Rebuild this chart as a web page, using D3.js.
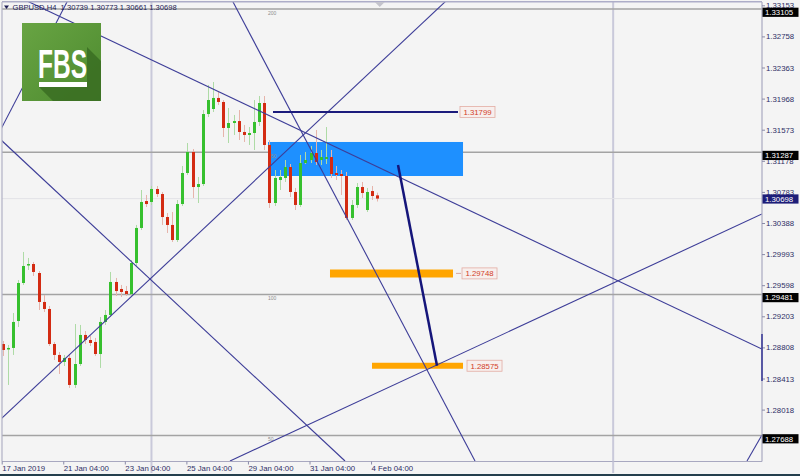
<!DOCTYPE html>
<html><head><meta charset="utf-8">
<script src="https://cdn.jsdelivr.net/npm/d3@7/dist/d3.min.js"></script>
<style>body{margin:0;background:#f4f4f4}svg{display:block}</style>
</head><body><svg id="c" width="800" height="476"></svg>
<script>
// ---------- data ----------
const symbolTitle = "GBPUSD,H4";
const opens  = [1.28851,1.28788,1.28801,1.29143,1.29626,1.29855,1.29867,1.29753,1.29385,1.29296,1.28851,1.28712,1.28623,1.28674,1.28331,1.28597,1.28966,1.28902,1.28877,1.28724,1.29131,1.29220,1.29639,1.29550,1.29524,1.29486,1.29880,1.30325,1.30667,1.30655,1.30820,1.30756,1.30464,1.30363,1.30172,1.30629,1.31023,1.31290,1.30845,1.30883,1.31772,1.31836,1.31976,1.31925,1.31595,1.31658,1.31683,1.31544,1.31506,1.31531,1.31671,1.31912,1.31379,1.30642,1.30934,1.30960,1.31099,1.30782,1.30617,1.31150,1.31188,1.31277,1.31188,1.31201,1.31226,1.31023,1.31010,1.30985,1.30452,1.30617,1.30845,1.30553,1.30794,1.30739];
const highs  = [1.28889,1.28839,1.29245,1.29664,1.30020,1.29944,1.29893,1.29778,1.29474,1.29334,1.28877,1.28750,1.28712,1.28724,1.29105,1.29093,1.29016,1.28953,1.28928,1.29194,1.29283,1.29766,1.29690,1.29601,1.29588,1.29918,1.30363,1.30807,1.30744,1.30858,1.30858,1.30782,1.30515,1.30528,1.30680,1.31112,1.31404,1.31328,1.30972,1.31823,1.32141,1.32179,1.32052,1.31950,1.31849,1.31760,1.31823,1.31633,1.31607,1.31950,1.32001,1.32001,1.31442,1.31061,1.31061,1.31188,1.31137,1.30833,1.31252,1.31290,1.31366,1.31569,1.31315,1.31607,1.31315,1.31112,1.31061,1.31036,1.30680,1.30896,1.30909,1.30833,1.30858,1.30773];
const lows   = [1.28699,1.28331,1.28712,1.29067,1.29601,1.29791,1.29715,1.29283,1.29258,1.28826,1.28648,1.28470,1.28572,1.28293,1.28293,1.28572,1.28851,1.28826,1.28699,1.28547,1.29093,1.29194,1.29461,1.29448,1.29461,1.29461,1.29842,1.30299,1.30591,1.30617,1.30718,1.30363,1.30261,1.30147,1.30147,1.30604,1.30998,1.30706,1.30642,1.30858,1.31734,1.31798,1.31887,1.31480,1.31404,1.31506,1.31442,1.31417,1.31379,1.31315,1.31620,1.31315,1.30579,1.30604,1.30807,1.30909,1.30718,1.30553,1.30591,1.31137,1.31150,1.31125,1.31125,1.31137,1.30960,1.30934,1.30744,1.30426,1.30426,1.30579,1.30706,1.30528,1.30680,1.30661];
const closes = [1.28775,1.28801,1.29131,1.29626,1.29842,1.29867,1.29766,1.29385,1.29296,1.28851,1.28712,1.28623,1.28674,1.28331,1.28597,1.28966,1.28902,1.28864,1.28724,1.29131,1.29220,1.29639,1.29524,1.29512,1.29486,1.29880,1.30325,1.30655,1.30629,1.30820,1.30756,1.30464,1.30363,1.30172,1.30629,1.31023,1.31290,1.30845,1.30883,1.31772,1.31950,1.31976,1.31925,1.31595,1.31658,1.31683,1.31544,1.31506,1.31531,1.31671,1.31912,1.31379,1.30642,1.30960,1.30972,1.31099,1.30782,1.30617,1.31150,1.31188,1.31277,1.31163,1.31226,1.31226,1.31010,1.30998,1.30985,1.30452,1.30617,1.30845,1.30769,1.30782,1.30731,1.30698];

const timeTickIdx = [0,12,24,36,48,60,72];
const timeTickLabels = ["17 Jan 2019","21 Jan 04:00","23 Jan 04:00","25 Jan 04:00","29 Jan 04:00","31 Jan 04:00","4 Feb 04:00"];
const priceTicks = [1.33153,1.32758,1.32363,1.31968,1.31573,1.31178,1.30783,1.30388,1.29993,1.29598,1.29203,1.28808,1.28413,1.28018];
const levelPrices = [1.33105,1.31287,1.29481,1.27688];
const levelLabels = ["200","150","100","50"];
const bidPrice = 1.30698;
const gridIdx = [29,119];
// trend lines: [barIndex, price] pairs
const trendStart = [[-0.53,1.31556],[4.35,1.33220],[-0.53,1.31455],[-0.53,1.27886],[44.70,1.33220],[44.31,1.27365],[145.09,1.27365]];
const trendEnd   = [[12.73,1.33220],[148.0,1.28788],[66.73,1.27365],[86.61,1.33220],[92.07,1.27365],[148.0,1.30502],[148.0,1.27696]];
const zoneIdx = [51.72,89.73];
const zonePrices = [1.31417,1.30985];
const resistIdx = [52.69,88.75];
const resistPrice = 1.31799;
const targetPrices = [1.29748,1.28575];
const targetIdx = [[63.8,87.78],[71.99,89.73]];
const arrowPts = [[77.06,1.31125],[84.66,1.28575]];
const axisMarkPrices = [1.28978,1.28381];

// ---------- scales ----------
const svg = d3.select("#c");
const W = 800, H = 476;
const pL = 2, pT = 2, pR = 762, pB = 461.5;
const x = d3.scaleLinear().domain([0,148]).range([2.7,761.94]);
const y = d3.scaleLinear().domain([1.28018,1.32758]).range([409.6,36.4]);
const fnt = "Liberation Sans, Arial, sans-serif";
const f5 = d3.format(".5f");

svg.append("rect").attr("width",W).attr("height",H).attr("fill","#f4f4f4");
const defs = svg.append("defs");
defs.append("clipPath").attr("id","plot").append("rect")
  .attr("x",pL).attr("y",pT).attr("width",pR-pL).attr("height",pB-pT);
const lg = defs.append("linearGradient").attr("id","lg").attr("x1",0).attr("y1",0).attr("x2",1).attr("y2",1);
lg.append("stop").attr("offset","0%").attr("stop-color","#68a443");
lg.append("stop").attr("offset","100%").attr("stop-color","#4d8a2f");

const plot = svg.append("g").attr("clip-path","url(#plot)");

// vertical grid
plot.selectAll(".vg").data(gridIdx).join("line")
  .attr("x1",d=>x(d)).attr("x2",d=>x(d)).attr("y1",pT).attr("y2",pB)
  .attr("stroke","#c9c9da").attr("stroke-width",2);
// bid line
plot.append("line").attr("x1",pL).attr("x2",pR).attr("y1",y(bidPrice)).attr("y2",y(bidPrice))
  .attr("stroke","#e2e2e6").attr("stroke-width",1);
// level lines
plot.selectAll(".lv").data(levelPrices).join("line")
  .attr("x1",pL).attr("x2",pR).attr("y1",d=>y(d)).attr("y2",d=>y(d))
  .attr("stroke","#a3a3a3").attr("stroke-width",1.5);
// zone
plot.append("rect").attr("x",x(zoneIdx[0])).attr("width",x(zoneIdx[1])-x(zoneIdx[0]))
  .attr("y",y(zonePrices[0])).attr("height",y(zonePrices[1])-y(zonePrices[0]))
  .attr("fill","#1e90ff");
plot.selectAll(".lvt").data(levelPrices).join("text")
  .attr("x",x(51.7)).attr("y",d=>y(d)+5.5).text((d,i)=>levelLabels[i])
  .attr("font-family",fnt).attr("font-size",5).attr("fill","#8d8d8d");
// targets
plot.selectAll(".tg").data(targetPrices).join("line")
  .attr("x1",(d,i)=>x(targetIdx[i][0])).attr("x2",(d,i)=>x(targetIdx[i][1]))
  .attr("y1",d=>y(d)).attr("y2",d=>y(d))
  .attr("stroke","#ffa500").attr("stroke-width",(d,i)=>i===0?8:6);

// candles
const bars = opens.map((o,i)=>({i,o,h:highs[i],l:lows[i],c:closes[i]}));
plot.selectAll(".wk").data(bars).join("line")
  .attr("x1",d=>Math.round(x(d.i))+0.5).attr("x2",d=>Math.round(x(d.i))+0.5)
  .attr("y1",d=>y(d.h)).attr("y2",d=>y(d.l))
  .attr("stroke",d=>d.c>=d.o?"#aedba6":"#e6b4ab").attr("stroke-width",1);
plot.selectAll(".bd").data(bars).join("rect")
  .attr("x",d=>Math.round(x(d.i))-1).attr("width",3)
  .attr("y",d=>y(Math.max(d.o,d.c)))
  .attr("height",d=>Math.max(1.5,Math.abs(y(d.o)-y(d.c))))
  .attr("fill",d=>d.c>=d.o?"#36c02e":"#d32b12");

// trend lines
plot.selectAll(".tl").data(trendStart).join("line")
  .attr("x1",d=>x(d[0])).attr("y1",d=>y(d[1]))
  .attr("x2",(d,i)=>x(trendEnd[i][0])).attr("y2",(d,i)=>y(trendEnd[i][1]))
  .attr("stroke","#3d3d98").attr("stroke-width",1.1);
// resistance line
plot.append("line").attr("x1",x(resistIdx[0])).attr("x2",x(resistIdx[1]))
  .attr("y1",y(resistPrice)).attr("y2",y(resistPrice))
  .attr("stroke","#1b1b7c").attr("stroke-width",2);
// arrow line
plot.append("path").attr("d",d3.line().x(d=>x(d[0])).y(d=>y(d[1]))(arrowPts))
  .attr("stroke","#15157a").attr("stroke-width",2.5).attr("fill","none");

// price tags next to drawn objects
const tags = [
  {p:resistPrice, end:resistIdx[1], gap:2, dash:false},
  {p:targetPrices[0], end:targetIdx[0][1], gap:9, dash:true},
  {p:targetPrices[1], end:targetIdx[1][1], gap:4, dash:false}
];
tags.forEach(t=>{
  const x0 = x(t.end)+t.gap, yy = y(t.p);
  if (t.dash) svg.append("line").attr("x1",x0-6).attr("x2",x0-1).attr("y1",yy).attr("y2",yy)
     .attr("stroke","#d8a79f").attr("stroke-width",1);
  svg.append("rect").attr("x",x0).attr("y",yy-5.5).attr("width",35).attr("height",11)
    .attr("fill","#f7efed").attr("stroke","#e3aca3").attr("stroke-width",0.8);
  svg.append("text").attr("x",x0+17.5).attr("y",yy+3).attr("text-anchor","middle")
    .attr("font-family",fnt).attr("font-size",7.8).attr("fill","#d23e28").text(f5(t.p));
});

// frame
svg.append("line").attr("x1",pL).attr("x2",pR).attr("y1",1.8).attr("y2",1.8).attr("stroke","#adadc8").attr("stroke-width",1.6);
svg.append("line").attr("x1",2).attr("x2",2).attr("y1",pT).attr("y2",pB).attr("stroke","#b0b0c4").attr("stroke-width",1.2);
svg.append("line").attr("x1",pR).attr("x2",pR).attr("y1",pT).attr("y2",pB).attr("stroke","#a8a8c0").attr("stroke-width",1.2);
svg.append("line").attr("x1",pL).attr("x2",pR).attr("y1",pB).attr("y2",pB).attr("stroke","#a8a8c0").attr("stroke-width",1.2);
svg.append("rect").attr("x",0).attr("y",474).attr("width",W).attr("height",2).attr("fill","#243f4d");
// chart shift marker
svg.append("path").attr("d",`M${x(73.5)-5},2 L${x(73.5)+5},2 L${x(73.5)},7 Z`).attr("fill","#c4c4cc");
// vertical grid continues into time axis
svg.selectAll(".vg2").data(gridIdx).join("line")
  .attr("x1",d=>x(d)).attr("x2",d=>x(d)).attr("y1",pB).attr("y2",473)
  .attr("stroke","#c9c9da").attr("stroke-width",2);

// right axis
const ay = svg.append("g").attr("transform",`translate(${pR},0)`)
  .call(d3.axisRight(y).tickValues(priceTicks).tickSize(3).tickPadding(1).tickFormat(f5));
ay.select(".domain").remove();
ay.selectAll("line").attr("stroke","#8a8aa8");
ay.selectAll("text").attr("font-family",fnt).attr("font-size",7.8).attr("fill","#2f2f66");
// axis mark segment
svg.append("line").attr("x1",pR).attr("x2",pR).attr("y1",y(axisMarkPrices[0])).attr("y2",y(axisMarkPrices[1]))
  .attr("stroke","#3d3d98").attr("stroke-width",1.6);

// highlighted price boxes (level boxes hang just below their line, bid box centred)
const boxes = levelPrices.map(p=>({p,fill:"#000",off:3.2})).concat([{p:bidPrice,fill:"#1d1d78",off:0.4}]);
const bx = svg.selectAll(".bx").data(boxes).join("g");
bx.append("rect").attr("x",pR+0.5).attr("y",d=>y(d.p)+d.off-4.6).attr("width",36).attr("height",9.2).attr("fill",d=>d.fill);
bx.append("text").attr("x",pR+3).attr("y",d=>y(d.p)+d.off+2.8).text(d=>f5(d.p))
  .attr("font-family",fnt).attr("font-size",7.8).attr("fill","#fff");

// bottom axis
const ax = svg.append("g").attr("transform",`translate(0,${pB})`)
  .call(d3.axisBottom(x).tickValues(timeTickIdx).tickSize(3).tickPadding(1).tickFormat((d,i)=>timeTickLabels[i]));
ax.select(".domain").remove();
ax.selectAll("line").attr("stroke","#8a8aa8").attr("transform","translate(-1,0)");
ax.selectAll("text").attr("text-anchor","start").attr("dx",-1)
  .attr("font-family",fnt).attr("font-size",7.8).attr("fill","#2f2f66");

// logo
const logo = svg.append("g");
logo.append("rect").attr("x",22).attr("y",23).attr("width",79).attr("height",78).attr("fill","url(#lg)");
logo.append("path").attr("d","M87,47 L101,61 L101,101 L53,101 L39,87 L87,87 Z").attr("fill","#3a6d22").attr("opacity",0.85);
logo.append("text").attr("x",38).attr("y",78).text("FBS").attr("font-family",fnt).attr("font-weight","bold")
  .attr("font-size",41).attr("fill","#fff").attr("textLength",49).attr("lengthAdjust","spacingAndGlyphs");
logo.append("rect").attr("x",39).attr("y",82).attr("width",48).attr("height",5).attr("fill","#fff");

// header
svg.append("path").attr("d","M4,5.5 L9,5.5 L6.5,9 Z").attr("fill","#1d1d55");
svg.append("text").attr("x",12.5).attr("y",10.3)
  .text(`${symbolTitle}  ${f5(opens[73])} ${f5(highs[73])} ${f5(lows[73])} ${f5(closes[73])}`)
  .attr("font-family",fnt).attr("font-size",7.6).attr("fill","#1d1d55").style("white-space","pre");
</script></body></html>
